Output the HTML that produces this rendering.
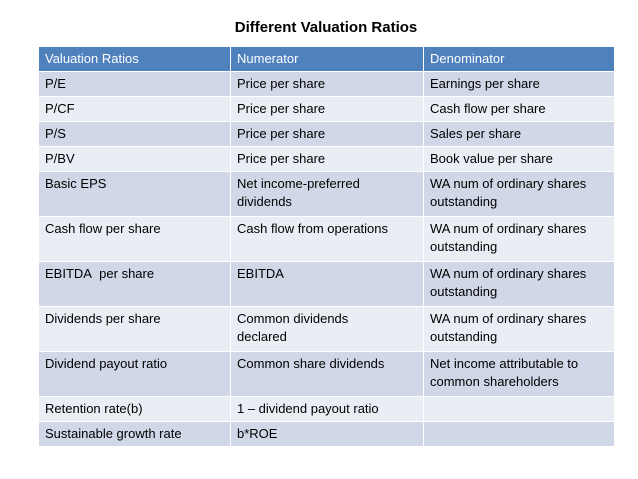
<!DOCTYPE html>
<html><head><meta charset="utf-8"><style>
body{margin:0;width:638px;height:479px;background:#fff;font-family:"Liberation Sans",sans-serif;position:relative;overflow:hidden}
h1{position:absolute;left:0;width:652px;top:19px;margin:0;text-align:center;font-size:15px;font-weight:bold;color:#000}
table{position:absolute;left:38px;top:46px;border-collapse:collapse;table-layout:fixed;width:576px}
td{border:1px solid #fff;font-size:13px;color:#000;padding:3px 6px 0 6px;vertical-align:top;line-height:18px;overflow:hidden;white-space:nowrap}
tr.h td{background:#4F81BD;color:#fff}
tr.d td{background:#D0D8E8}
tr.l td{background:#E9EDF4}
tr.s td{height:21px}
tr.t td{height:41px}
</style></head><body>
<h1>Different Valuation Ratios</h1>
<table>
<colgroup><col style="width:192px"><col style="width:193px"><col style="width:191px"></colgroup>
<tr class="h s"><td>Valuation Ratios</td><td>Numerator</td><td>Denominator</td></tr>
<tr class="d s"><td>P/E</td><td>Price per share</td><td>Earnings per share</td></tr>
<tr class="l s"><td>P/CF</td><td>Price per share</td><td>Cash flow per share</td></tr>
<tr class="d s"><td>P/S</td><td>Price per share</td><td>Sales per share</td></tr>
<tr class="l s"><td>P/BV</td><td>Price per share</td><td>Book value per share</td></tr>
<tr class="d t"><td>Basic EPS</td><td>Net income-preferred<br>dividends</td><td>WA num of ordinary shares<br>outstanding</td></tr>
<tr class="l t"><td>Cash flow per share</td><td>Cash flow from operations</td><td>WA num of ordinary shares<br>outstanding</td></tr>
<tr class="d t"><td>EBITDA&nbsp; per share</td><td>EBITDA</td><td>WA num of ordinary shares<br>outstanding</td></tr>
<tr class="l t"><td>Dividends per share</td><td>Common dividends<br>declared</td><td>WA num of ordinary shares<br>outstanding</td></tr>
<tr class="d t"><td>Dividend payout ratio</td><td>Common share dividends</td><td>Net income attributable to<br>common shareholders</td></tr>
<tr class="l s"><td>Retention rate(b)</td><td>1 – dividend payout ratio</td><td></td></tr>
<tr class="d s"><td>Sustainable growth rate</td><td>b*ROE</td><td></td></tr>
</table>
</body></html>
